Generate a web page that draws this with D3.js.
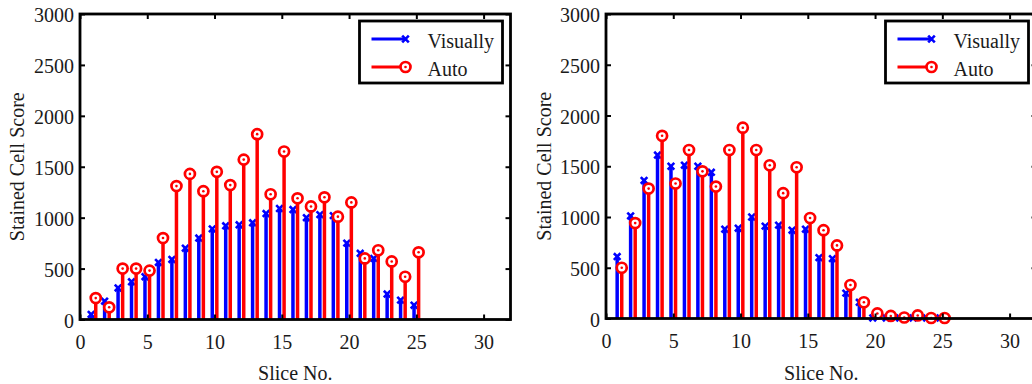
<!DOCTYPE html>
<html>
<head>
<meta charset="utf-8">
<script src="https://cdn.jsdelivr.net/npm/d3@7/dist/d3.min.js"></script>
<style>
  html, body { margin: 0; padding: 0; background: #fff; }
  svg { display: block; }
  text { font-family: "Liberation Serif", "Times New Roman", serif; fill: #1a1a1a; }
</style>
</head>
<body>
<svg id="chart" width="1032" height="384"></svg>
<script>
// Slice numbers shared by both panels
const slices = [1, 2, 3, 4, 5, 6, 7, 8, 9, 10, 11, 12, 13, 14, 15, 16, 17, 18, 19, 20, 21, 22, 23, 24, 25];

// Left panel: stained cell scores per slice
const leftVisually = [50, 180, 310, 370, 420, 560, 590, 700, 800, 890, 920, 930, 950, 1040, 1090, 1080, 1000, 1030, 1020, 750, 650, 600, 250, 190, 140];
const leftAuto = [210, 120, 500, 500, 480, 800, 1310, 1430, 1260, 1450, 1320, 1570, 1820, 1230, 1650, 1190, 1110, 1200, 1010, 1150, 600, 680, 570, 420, 660];

// Right panel: stained cell scores per slice
const rightVisually = [610, 1010, 1360, 1610, 1500, 1510, 1500, 1440, 880, 890, 1000, 910, 920, 870, 880, 600, 590, 250, 160, 5, 5, 5, 5, 5, 5];
const rightAuto = [500, 940, 1280, 1800, 1330, 1660, 1450, 1300, 1660, 1880, 1660, 1510, 1235, 1490, 990, 870, 720, 330, 160, 50, 25, 10, 30, 5, 5];

// Axis ticks and labels
const xTicks = [0, 5, 10, 15, 20, 25, 30];
const yTicks = [0, 500, 1000, 1500, 2000, 2500, 3000];
const xDomain = [0, 32];
const yDomain = [0, 3000];
const seriesNames = ["Visually", "Auto"];
const xTitle = "Slice No.";
const yTitle = "Stained Cell Score";

const BLUE = "#0000ff";
const RED = "#ff0000";
const FONT = 20;

const svg = d3.select("#chart");

const panels = [
  { vis: leftVisually, auto: leftAuto, x0: 80, x1: 510.5, y0: 319.5, y1: 14, yTitleX: 24 },
  { vis: rightVisually, auto: rightAuto, x0: 606, x1: 1036.5, y0: 318.5, y1: 14, yTitleX: 551 }
];

function drawX(sel, cx, cy) {
  const s = 3.3;
  sel.append("path")
    .attr("d", `M${cx - s},${cy - s}L${cx + s},${cy + s}M${cx - s},${cy + s}L${cx + s},${cy - s}`)
    .attr("stroke", BLUE).attr("stroke-width", 2.6).attr("fill", "none");
}

function drawO(sel, cx, cy) {
  sel.append("circle").attr("cx", cx).attr("cy", cy).attr("r", 5)
    .attr("fill", "#fff").attr("stroke", RED).attr("stroke-width", 2.7);
  sel.append("circle").attr("cx", cx).attr("cy", cy).attr("r", 1.3).attr("fill", RED);
}

panels.forEach(p => {
  const x = d3.scaleLinear().domain(xDomain).range([p.x0, p.x1]);
  const y = d3.scaleLinear().domain(yDomain).range([p.y0, p.y1]);
  const g = svg.append("g");

  // Stems: Visually slightly left of each slice, Auto slightly right
  const off = 0.17;
  const vis = slices.map((s, i) => ({ s, v: p.vis[i] }));
  const auto = slices.map((s, i) => ({ s, v: p.auto[i] }));

  const gv = g.append("g");
  gv.selectAll("line").data(vis).join("line")
    .attr("x1", d => x(d.s - off)).attr("x2", d => x(d.s - off))
    .attr("y1", y(0)).attr("y2", d => y(d.v))
    .attr("stroke", BLUE).attr("stroke-width", 3.5);
  vis.forEach(d => drawX(gv, x(d.s - off), y(d.v)));

  const ga = g.append("g");
  ga.selectAll("line").data(auto).join("line")
    .attr("x1", d => x(d.s + off)).attr("x2", d => x(d.s + off))
    .attr("y1", y(0)).attr("y2", d => y(d.v))
    .attr("stroke", RED).attr("stroke-width", 3.5);
  auto.forEach(d => drawO(ga, x(d.s + off), y(d.v)));

  // Axes with inward ticks on all four sides
  const axB = g.append("g").attr("transform", `translate(0,${p.y0})`)
    .call(d3.axisBottom(x).tickValues(xTicks).tickSize(-5).tickPadding(15).tickFormat(d3.format("d")));
  const axT = g.append("g").attr("transform", `translate(0,${p.y1})`)
    .call(d3.axisTop(x).tickValues(xTicks).tickSize(-5).tickFormat(""));
  const axL = g.append("g").attr("transform", `translate(${p.x0},0)`)
    .call(d3.axisLeft(y).tickValues(yTicks).tickSize(-5).tickPadding(6).tickFormat(d3.format("d")));
  const axR = g.append("g").attr("transform", `translate(${p.x1},0)`)
    .call(d3.axisRight(y).tickValues(yTicks).tickSize(-5).tickFormat(""));
  [axB, axT, axL, axR].forEach(a => {
    a.select(".domain").remove();
    a.selectAll(".tick line").attr("stroke", "#000").attr("stroke-width", 2);
    a.selectAll("text").attr("font-size", FONT).attr("fill", "#1a1a1a")
      .attr("font-family", "'Liberation Serif', 'Times New Roman', serif");
  });
  axL.selectAll("text").attr("dy", "0.38em");

  // Box
  g.append("rect").attr("x", p.x0).attr("y", p.y1)
    .attr("width", p.x1 - p.x0).attr("height", p.y0 - p.y1)
    .attr("fill", "none").attr("stroke", "#000").attr("stroke-width", 2.8);

  // Axis titles
  g.append("text").attr("x", (p.x0 + p.x1) / 2).attr("y", 380)
    .attr("text-anchor", "middle").attr("font-size", FONT).text(xTitle);
  g.append("text")
    .attr("transform", `translate(${p.yTitleX},${(p.y0 + p.y1) / 2}) rotate(-90)`)
    .attr("text-anchor", "middle").attr("font-size", FONT).text(yTitle);

  // Legend
  const lg = g.append("g");
  const lx = p.x1 - 151;
  lg.append("rect").attr("x", lx).attr("y", 21).attr("width", 143).attr("height", 62)
    .attr("fill", "#fff").attr("stroke", "#000").attr("stroke-width", 2.8);
  const rows = [{ name: seriesNames[0], color: BLUE, y: 39, mark: drawX },
                { name: seriesNames[1], color: RED, y: 67, mark: drawO }];
  rows.forEach(r => {
    lg.append("line").attr("x1", lx + 12).attr("x2", lx + 46)
      .attr("y1", r.y).attr("y2", r.y).attr("stroke", r.color).attr("stroke-width", 3.2);
    r.mark(lg, lx + 46, r.y);
    lg.append("text").attr("x", lx + 68).attr("y", r.y + 9)
      .attr("font-size", FONT).text(r.name);
  });
});
</script>
</body>
</html>
